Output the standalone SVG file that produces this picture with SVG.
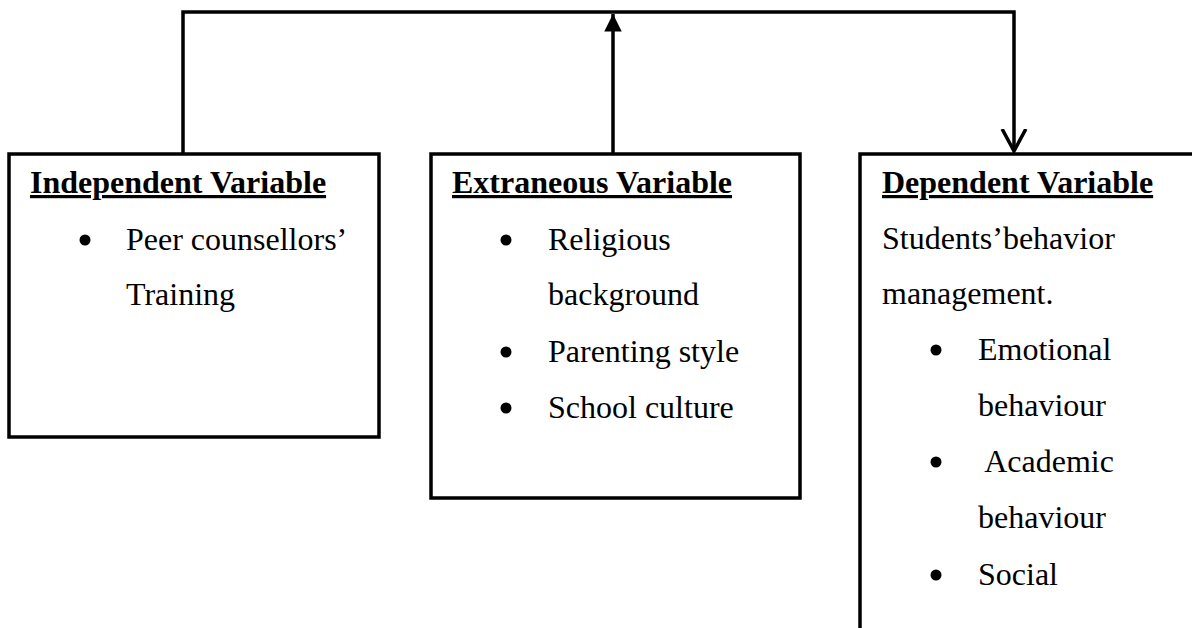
<svg xmlns="http://www.w3.org/2000/svg" width="1192" height="628" viewBox="0 0 1192 628">
<style>
.box{fill:#fff;stroke:#000;stroke-width:3.5}
.hd{font-family:"Liberation Serif","Times New Roman",serif;font-weight:bold;font-size:32px;text-decoration:underline;fill:#000}
.tx{font-family:"Liberation Serif","Times New Roman",serif;font-size:32px;fill:#000}
.conn{fill:none;stroke:#000;stroke-width:3.5}
</style>
<defs>
<marker id="filled" markerWidth="6" markerHeight="5" refX="5" refY="2.5" orient="auto" markerUnits="strokeWidth">
<path d="M0,0 L5,2.5 L0,5 Z" fill="#000"/>
</marker>
<marker id="open" markerWidth="8" markerHeight="8" refX="6.3" refY="4" orient="auto" markerUnits="strokeWidth">
<path d="M0,0.6 L6.3,4 L0,7.4" fill="none" stroke="#000" stroke-width="1"/>
</marker>
</defs>
<rect width="1192" height="628" fill="#fff"/>
<g id="connectors">
<path class="conn" d="M183,153 V12 H1014 V151" marker-end="url(#open)"/>
<path class="conn" d="M613,153 V14" marker-end="url(#filled)"/>
</g>
<g id="independent">
<rect class="box" x="9" y="154" width="370" height="283"/>
<text class="hd" x="30" y="193">Independent Variable</text>
<circle cx="85" cy="240" r="5.5"/>
<text class="tx" x="126" y="250">Peer counsellors’</text>
<text class="tx" x="126" y="305">Training</text>
</g>
<g id="extraneous">
<rect class="box" x="431" y="154" width="369" height="344"/>
<text class="hd" x="452" y="193">Extraneous Variable</text>
<circle cx="506" cy="240" r="5.5"/>
<text class="tx" x="548" y="250">Religious</text>
<text class="tx" x="548" y="305">background</text>
<circle cx="506" cy="352" r="5.5"/>
<text class="tx" x="548" y="362">Parenting style</text>
<circle cx="506" cy="408" r="5.5"/>
<text class="tx" x="548" y="418">School culture</text>
</g>
<g id="dependent">
<path class="box" d="M1192,154 H860 V628"/>
<text class="hd" x="882" y="193">Dependent Variable</text>
<text class="tx" x="882" y="249">Students’behavior</text>
<text class="tx" x="882" y="304">management.</text>
<circle cx="936" cy="350" r="5.5"/>
<text class="tx" x="978" y="360">Emotional</text>
<text class="tx" x="978" y="416">behaviour</text>
<circle cx="936" cy="462" r="5.5"/>
<text class="tx" x="978" y="472" xml:space="preserve"> Academic</text>
<text class="tx" x="978" y="528">behaviour</text>
<circle cx="936" cy="575" r="5.5"/>
<text class="tx" x="978" y="585">Social</text>
</g>
</svg>
